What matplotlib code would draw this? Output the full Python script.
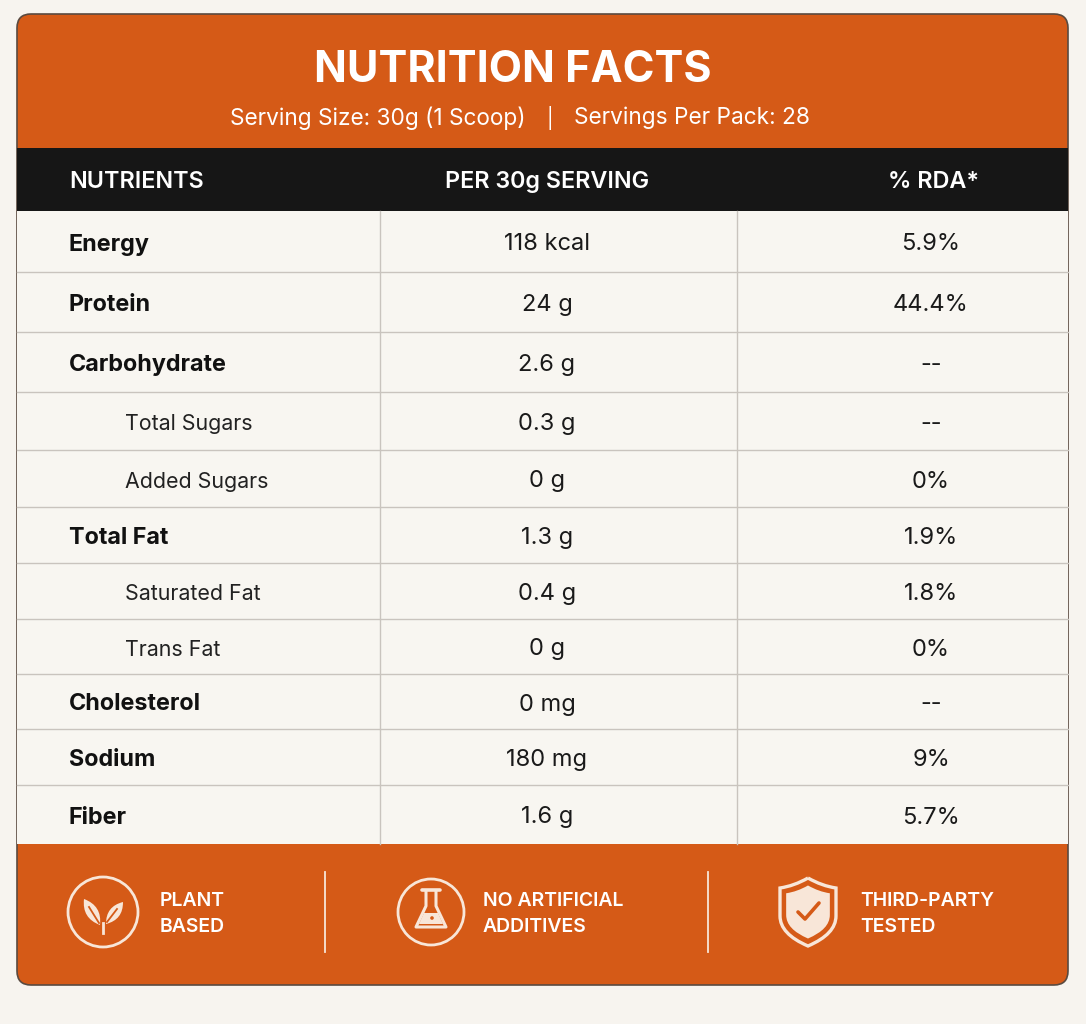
import numpy as np
import matplotlib.pyplot as plt
from matplotlib.patches import FancyBboxPatch, Rectangle, Circle, Polygon, PathPatch
from matplotlib.path import Path

plt.rcParams['font.family'] = ['Inter', 'DejaVu Sans']

# data
title = "NUTRITION FACTS"
serving_size = "Serving Size: 30g (1 Scoop)"
servings_pack = "Servings Per Pack: 28"
col_heads = ["NUTRIENTS", "PER 30g SERVING", "% RDA*"]
nutrients = ["Energy", "Protein", "Carbohydrate", "Total Sugars", "Added Sugars",
             "Total Fat", "Saturated Fat", "Trans Fat", "Cholesterol", "Sodium", "Fiber"]
amounts = ["118 kcal", "24 g", "2.6 g", "0.3 g", "0 g", "1.3 g", "0.4 g", "0 g",
           "0 mg", "180 mg", "1.6 g"]
rda = ["5.9%", "44.4%", "--", "--", "0%", "1.9%", "1.8%", "0%", "--", "9%", "5.7%"]
sub_item = [False, False, False, True, True, False, True, True, False, False, False]
badges = ["PLANT\nBASED", "NO ARTIFICIAL\nADDITIVES", "THIRD-PARTY\nTESTED"]

ORANGE = "#D55A17"
BG = "#F7F4EF"
CARD = "#F8F6F1"
DARK = "#161616"
LINE = "#C9C4BE"
CREAM = "#F8E6D8"

W, H = 1086, 1024
fig = plt.figure(figsize=(W / 100, H / 100), dpi=100, facecolor=BG)
ax = fig.add_axes([0, 0, 1, 1])
ax.set_xlim(0, W)
ax.set_ylim(H, 0)
ax.axis('off')

x0, x1 = 17, 1068
y0, y1 = 14, 985
head_bot = 148
th_bot = 211
body_bot = 844
row_edges = [211, 272, 332, 392, 450, 507, 563, 619, 674, 729, 785, 844]
col_x = [380, 737]

# card
ax.add_patch(FancyBboxPatch((x0, y0), x1 - x0, y1 - y0,
                            boxstyle="round,pad=0,rounding_size=14",
                            fc=ORANGE, ec="#5a4a40", lw=1.2, zorder=1))
ax.add_patch(Rectangle((x0, head_bot), x1 - x0, th_bot - head_bot, fc=DARK, ec='none', zorder=2))
ax.add_patch(Rectangle((x0, th_bot), x1 - x0, body_bot - th_bot, fc=CARD, ec='none', zorder=2))

# header text
ax.text(513, 70, title, ha='center', va='center', color='white',
        fontsize=31, fontweight='bold', zorder=5)
ax.text(378, 118, serving_size, ha='center', va='center', color='white', fontsize=16.3, zorder=5)
ax.text(550, 118, "|", ha='center', va='center', color='white', fontsize=14, zorder=5)
ax.text(692, 118, servings_pack, ha='center', va='center', color='white', fontsize=16.3, zorder=5)

# column headers
hfs = 16.8
ax.text(69, 182, col_heads[0], ha='left', va='center', color='white',
        fontsize=hfs, fontweight='semibold', zorder=5)
ax.text(547, 182, col_heads[1], ha='center', va='center', color='white',
        fontsize=hfs, fontweight='semibold', zorder=5)
ax.text(933, 182, col_heads[2], ha='center', va='center', color='white',
        fontsize=hfs, fontweight='semibold', zorder=5)

# rows
for i, name in enumerate(nutrients):
    top, bot = row_edges[i], row_edges[i + 1]
    yc = (top + bot) / 2 + 3
    if i > 0:
        ax.plot([x0, x1], [top, top], color=LINE, lw=1, zorder=3)
    if sub_item[i]:
        ax.text(125, yc, name, ha='left', va='center', color='#222222', fontsize=15.4, zorder=5)
    else:
        ax.text(69, yc, name, ha='left', va='center', color='#111111', fontsize=16.8,
                fontweight='bold', zorder=5)
    ax.text(547, yc, amounts[i], ha='center', va='center', color='#1a1a1a', fontsize=17, zorder=5)
    ax.text(931, yc, rda[i], ha='center', va='center', color='#1a1a1a', fontsize=17, zorder=5)
for cx in col_x:
    ax.plot([cx, cx], [th_bot, body_bot], color=LINE, lw=1, zorder=3)

# footer dividers
for dx in [325, 708]:
    ax.plot([dx, dx], [872, 952], color=CREAM, lw=1.3, zorder=4)

# badge texts
for bx, txt in zip([160, 483, 860], badges):
    ax.text(bx, 914, txt, ha='left', va='center', color='white', fontsize=14,
            fontweight='semibold', linespacing=1.55, zorder=5)

# icon 1: leaves
cx, cy = 103, 912
ax.add_patch(Circle((cx, cy), 35, fc='none', ec=CREAM, lw=2, zorder=5))


def leaf(base, tip, bulge):
    b, t = np.array(base, float), np.array(tip, float)
    d = t - b
    n = np.array([-d[1], d[0]]) / np.hypot(*d)
    m = (b + t) / 2
    c1 = m + n * bulge
    c2 = m - n * bulge
    verts = [b, c1, t, c2, b]
    codes = [Path.MOVETO, Path.CURVE3, Path.CURVE3, Path.CURVE3, Path.CURVE3]
    return Path(verts, codes)


ax.add_patch(PathPatch(leaf((cx - 3, cy + 13), (cx - 19, cy - 13), 12), fc=CREAM, ec='none', zorder=5))
ax.add_patch(PathPatch(leaf((cx + 3, cy + 12), (cx + 20, cy - 10), 11), fc=CREAM, ec='none', zorder=5))
ax.plot([cx - 14, cx - 4], [cy - 5, cy + 11], color=ORANGE, lw=1.3, zorder=6)
ax.plot([cx + 14, cx + 4], [cy - 3, cy + 10], color=ORANGE, lw=1.3, zorder=6)
ax.plot([cx, cx], [cy + 11, cy + 21], color=CREAM, lw=2, zorder=6)

# icon 2: flask
cx, cy = 431, 912
ax.add_patch(Circle((cx, cy), 33, fc='none', ec=CREAM, lw=2, zorder=5))
flask = [(cx - 5, cy - 21), (cx - 5, cy - 6), (cx - 15, cy + 15), (cx + 15, cy + 15),
         (cx + 5, cy - 6), (cx + 5, cy - 21)]
ax.add_patch(Polygon(flask, closed=False, fc='none', ec=CREAM, lw=2.2, joinstyle='round', zorder=6))
ax.plot([cx - 9, cx + 9], [cy - 22, cy - 22], color=CREAM, lw=2.6, solid_capstyle='round', zorder=6)
liquid = [(cx - 7, cy + 1), (cx - 12, cy + 12), (cx + 12, cy + 12), (cx + 7, cy + 1)]
ax.add_patch(Polygon(liquid, closed=True, fc=CREAM, ec='none', zorder=6))
ax.add_patch(Circle((cx + 1, cy + 6), 1.8, fc=ORANGE, ec='none', zorder=7))

# icon 3: shield with check
cx, cy = 808, 912


def shield(s):
    verts = [(cx, cy - 34 * s), (cx - 14 * s, cy - 26 * s), (cx - 28 * s, cy - 24 * s),
             (cx - 28 * s, cy - 24 * s), (cx - 28 * s, cy + 4 * s), (cx - 28 * s, cy + 22 * s),
             (cx, cy + 34 * s), (cx + 28 * s, cy + 22 * s), (cx + 28 * s, cy + 4 * s),
             (cx + 28 * s, cy - 24 * s), (cx + 28 * s, cy - 24 * s), (cx + 14 * s, cy - 26 * s),
             (cx, cy - 34 * s)]
    codes = [Path.MOVETO, Path.CURVE3, Path.CURVE3, Path.LINETO, Path.LINETO, Path.CURVE3,
             Path.CURVE3, Path.CURVE3, Path.CURVE3, Path.LINETO, Path.LINETO, Path.CURVE3,
             Path.CURVE3]
    return Path(verts, codes)


ax.add_patch(PathPatch(shield(1.0), fc='none', ec=CREAM, lw=2.4, zorder=5))
ax.add_patch(PathPatch(shield(0.78), fc=CREAM, ec='none', zorder=5))
ax.plot([cx - 10, cx - 3, cx + 11], [cy, cy + 7, cy - 9], color=ORANGE, lw=2.6,
        solid_capstyle='round', solid_joinstyle='round', zorder=6)

fig.savefig("out.png", dpi=100, facecolor=BG)
